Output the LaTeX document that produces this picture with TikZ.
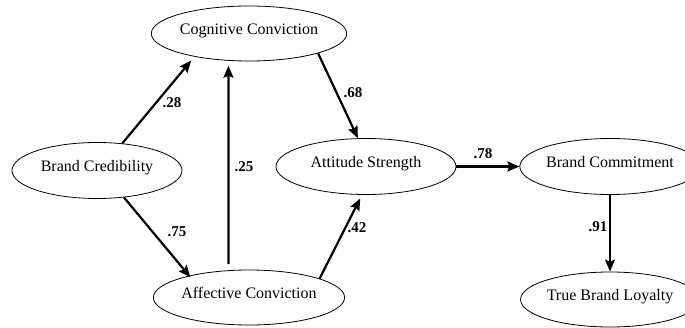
\documentclass[tikz,border=0pt]{standalone}
\usepackage{fontspec}
\setmainfont{Liberation Serif}
\usetikzlibrary{shapes.geometric,arrows.meta}
\begin{document}
\begin{tikzpicture}[x=1pt,y=-1pt,
  latent/.style={ellipse,draw,line width=0.8pt,inner sep=0pt,
    font=\fontsize{16}{19}\selectfont,text height=0.7em,text depth=0.54em},
  pathline/.style={line width=2.2pt,-{Stealth[length=12pt,width=10pt,inset=2pt]}},
  coef/.style={font=\fontsize{15}{18}\selectfont\bfseries,inner sep=0pt}]
\useasboundingbox (0,0) rectangle (685,328);
\node[latent,minimum width=168pt,minimum height=55pt] (cc) at (249,33.5) {Cognitive Conviction};
\node[latent,minimum width=170pt,minimum height=56pt] (bc) at (97,170.5) {Brand Credibility};
\node[latent,minimum width=180pt,minimum height=56pt] (as) at (366,166.5) {Attitude Strength};
\node[latent,minimum width=170pt,minimum height=56pt] (bcm) at (610,166.5) {Brand Commitment};
\node[latent,minimum width=168pt,minimum height=55pt] (ac) at (249,297.5) {Affective Conviction};
\node[latent,minimum width=170pt,minimum height=55pt] (tbl) at (610,299.5) {True Brand Loyalty};

\draw[pathline,shorten >=5pt] (bc.47) -- (cc.203);
\draw[pathline,shorten <=6pt,shorten >=5pt] (ac.127) -- (cc.233);
\draw[pathline] (cc.344) -- (as.106);
\draw[pathline,shorten >=-2pt] (bc.315) -- (ac.160);
\draw[pathline,shorten >=4pt] (ac.15) -- (as.262);
\draw[pathline] (as.east) -- (bcm.west);
\draw[pathline] (bcm.south) -- (tbl.north);

\node[coef] (l28) at (172,103) {.28};
\node[coef] (l25) at (244,167) {.25};
\node[coef] (l68) at (353,93) {.68};
\node[coef] (l75) at (177,232) {.75};
\node[coef] (l42) at (357,228) {.42};
\node[coef] (l78) at (483,154) {.78};
\node[coef] (l91) at (598,227) {.91};
\end{tikzpicture}
\end{document}
